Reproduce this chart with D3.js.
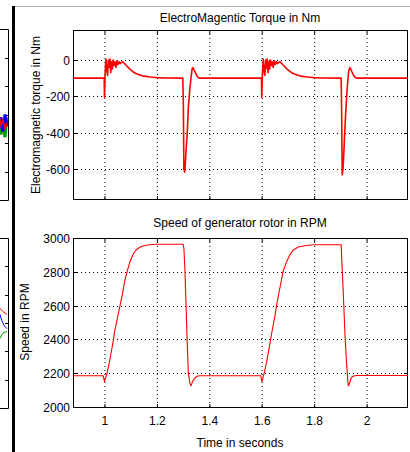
<!DOCTYPE html>
<html><head><meta charset="utf-8">
<script src="https://cdn.jsdelivr.net/npm/d3@7/dist/d3.min.js"></script>
<style>body{margin:0;background:#fff}svg{display:block}text{font-family:"Liberation Sans",Arial,sans-serif;fill:#000}</style>
</head><body><svg id="c" width="410" height="452"></svg>
<script>
// ---------- data ----------
const torqueTitle = "ElectroMagentic Torque in Nm";
const speedTitle = "Speed of generator rotor in RPM";
const torqueYLabel = "Electromagnetic torque in Nm";
const speedYLabel = "Speed in RPM";
const xLabel = "Time in seconds";
const xTicks = [1, 1.2, 1.4, 1.6, 1.8, 2];
const xTickLabels = ["1", "1.2", "1.4", "1.6", "1.8", "2"];
const torqueTicks = [0, -200, -400, -600];
const speedTicks = [2000, 2200, 2400, 2600, 2800, 3000];

const torqueT = [0.88,0.999,1.000,1.002,1.004,1.006,1.009,1.012,1.015,1.018,1.021,1.024,1.027,1.030,1.033,1.037,1.040,1.044,1.048,1.052,1.056,1.060,1.065,1.070,1.080,1.090,1.100,1.110,1.120,1.135,1.150,1.175,1.200,1.230,1.299,1.301,1.303,1.306,1.309,1.312,1.316,1.320,1.325,1.330,1.335,1.338,1.342,1.347,1.352,1.358,1.365,
  1.599,1.600,1.602,1.604,1.606,1.609,1.612,1.615,1.618,1.621,1.624,1.627,1.630,1.633,1.637,1.640,1.644,1.648,1.652,1.656,1.660,1.665,1.670,1.680,1.690,1.700,1.710,1.720,1.735,1.750,1.775,1.800,1.830,1.903,1.905,1.907,1.910,1.913,1.916,1.920,1.924,1.928,1.932,1.936,1.939,1.943,1.948,1.953,1.958,1.964,2.158];
const torqueV = [-100,-100,-205,-100,-30,5,-60,-85,0,-40,5,-70,-10,-50,0,-30,-10,-40,-5,-25,-10,-20,-12,-10,-25,-40,-55,-66,-75,-83,-89,-94,-97,-99,-100,-250,-600,-617,-560,-480,-400,-260,-170,-100,-45,-42,-55,-70,-85,-97,-100,
  -100,-205,-100,-30,5,-65,-85,0,-45,5,-70,-10,-50,0,-30,-10,-40,-5,-25,-10,-20,-12,-10,-25,-40,-55,-66,-75,-83,-89,-94,-97,-99,-100,-300,-632,-600,-520,-420,-300,-200,-120,-60,-42,-48,-62,-78,-90,-97,-100,-100];

const speedT = [0.88,0.995,1.000,1.003,1.010,1.020,1.030,1.040,1.050,1.060,1.070,1.078,1.088,1.097,1.110,1.120,1.135,1.147,1.170,1.200,1.300,1.303,1.307,1.315,1.320,1.326,1.330,1.336,1.345,1.355,1.365,
  1.597,1.600,1.604,1.610,1.620,1.630,1.640,1.650,1.658,1.670,1.681,1.695,1.707,1.720,1.739,1.770,1.800,1.903,1.906,1.912,1.918,1.924,1.930,1.935,1.941,1.948,1.960,2.158];
const speedV = [2185,2185,2150,2165,2200,2275,2360,2455,2530,2605,2680,2750,2810,2858,2905,2929,2945,2953,2960,2963,2963,2940,2811,2416,2200,2140,2125,2150,2172,2183,2185,
  2185,2150,2170,2205,2277,2365,2454,2535,2614,2710,2800,2860,2900,2928,2947,2956,2960,2960,2853,2640,2416,2250,2125,2140,2170,2182,2186,2186];

// partial neighbour panels at the left edge
const leftTopTicks = [1, 2, 3, 4, 5];
const leftTopBlue = [3.5, 3.1, 3.6, 3.0, 3.4];
const leftTopGreen = [3.2, 3.7, 3.3, 3.8, 3.1];
const leftTopRed = [3.0, 3.4, 3.2, 3.5, 3.3];
const leftBotTicks = [1, 2, 3, 4, 5];
const leftBotRed = [2.45, 2.6, 2.7];
const leftBotBlue = [2.6, 2.9, 3.1, 3.2];
const leftBotGreen = [3.6, 3.35, 3.3];

// ---------- drawing ----------
const svg = d3.select("#c");
const L = 73, R = 408;
const x = d3.scaleLinear().domain([0.88, 2.158]).range([L, R]);

// frame elements
svg.append("line").attr("x1",15).attr("x2",410).attr("y1",6.5).attr("y2",6.5).attr("stroke","#b4b4b4").attr("stroke-width",1);
svg.append("rect").attr("x",12).attr("y",6).attr("width",3).attr("height",446).attr("fill","#000");

function panel(top, bottom, y, ticks, tickLabels) {
  const g = svg.append("g");
  // grid
  g.selectAll(".gx").data(xTicks).join("line")
    .attr("x1",d=>x(d)+0.5).attr("x2",d=>x(d)+0.5).attr("y1",top).attr("y2",bottom)
    .attr("stroke","#000").attr("stroke-dasharray","1,3").attr("stroke-width",1);
  g.selectAll(".gy").data(ticks).join("line")
    .attr("x1",L).attr("x2",R).attr("y1",d=>Math.round(y(d))+0.5).attr("y2",d=>Math.round(y(d))+0.5)
    .attr("stroke","#000").attr("stroke-dasharray","1,3").attr("stroke-width",1);
  // ticks inward on all sides
  xTicks.forEach(d=>{
    g.append("line").attr("x1",x(d)+0.5).attr("x2",x(d)+0.5).attr("y1",bottom).attr("y2",bottom-4).attr("stroke","#000");
    g.append("line").attr("x1",x(d)+0.5).attr("x2",x(d)+0.5).attr("y1",top).attr("y2",top+4).attr("stroke","#000");
  });
  ticks.forEach((d,i)=>{
    const yy = Math.round(y(d))+0.5;
    g.append("line").attr("x1",L).attr("x2",L+4).attr("y1",yy).attr("y2",yy).attr("stroke","#000");
    g.append("line").attr("x1",R-4).attr("x2",R).attr("y1",yy).attr("y2",yy).attr("stroke","#000");
    g.append("text").attr("x",L-3).attr("y",yy+4).attr("text-anchor","end").attr("font-size",12).text(tickLabels[i]);
  });
  g.append("rect").attr("x",L+0.5).attr("y",top+0.5).attr("width",R-L-1).attr("height",bottom-top-1)
    .attr("fill","none").attr("stroke","#000").attr("stroke-width",1);
  return g;
}

// top: torque
const yT = d3.scaleLinear().domain([-765, 165]).range([199, 30]);
panel(30, 200, yT, torqueTicks, torqueTicks.map(String));
const lineT = d3.line().x(d=>x(d[0])).y(d=>yT(d[1]));
svg.append("path").datum(torqueT.map((t,i)=>[t,torqueV[i]])).attr("d",lineT)
  .attr("fill","none").attr("stroke","#ff0000").attr("stroke-width",1.6).attr("stroke-linejoin","round");
svg.append("text").attr("x",240).attr("y",22).attr("text-anchor","middle").attr("font-size",12).text(torqueTitle);
svg.append("text").attr("transform","translate(40,115) rotate(-90)").attr("text-anchor","middle").attr("font-size",12).text(torqueYLabel);

// bottom: speed
const yS = d3.scaleLinear().domain([2000, 3000]).range([407, 238]);
panel(238, 408, yS, speedTicks, speedTicks.map(String));
const lineS = d3.line().x(d=>x(d[0])).y(d=>yS(d[1]));
svg.append("path").datum(speedT.map((t,i)=>[t,speedV[i]])).attr("d",lineS)
  .attr("fill","none").attr("stroke","#ff0000").attr("stroke-width",1.1).attr("stroke-linejoin","round");
svg.append("text").attr("x",240).attr("y",227).attr("text-anchor","middle").attr("font-size",12).text(speedTitle);
svg.append("text").attr("transform","translate(29,322) rotate(-90)").attr("text-anchor","middle").attr("font-size",12).text(speedYLabel);

// x tick labels and label
svg.selectAll(".xl").data(xTicks).join("text").attr("x",d=>x(d)+0.5).attr("y",425)
  .attr("text-anchor","middle").attr("font-size",12).text((d,i)=>xTickLabels[i]);
svg.append("text").attr("x",240).attr("y",447).attr("text-anchor","middle").attr("font-size",12).text(xLabel);

// partial neighbour panels
function leftPanel(top, bottom, ticks, series) {
  const ly = d3.scaleLinear().domain([0, 6]).range([top, bottom]);
  const lx = d3.scaleLinear().domain([0, 1]).range([-1, 7]);
  svg.append("path").attr("d",`M0,${top+0.5}H8.5V${bottom+0.5}H0`).attr("fill","none").attr("stroke","#000");
  ticks.forEach(d=>svg.append("line").attr("x1",5).attr("x2",8).attr("y1",Math.round(ly(d))+0.5).attr("y2",Math.round(ly(d))+0.5).attr("stroke","#000"));
  series.forEach(s=>{
    svg.append("path").datum(s.v).attr("d",d3.line().x((d,i)=>lx(i/(s.v.length-1))).y(d=>ly(d)))
      .attr("fill","none").attr("stroke",s.c).attr("stroke-width",s.w);
  });
}
leftPanel(29, 200, leftTopTicks, [
  {v:leftTopGreen,c:"#00a000",w:3},{v:leftTopBlue,c:"#0000ff",w:3},{v:leftTopRed,c:"#ff0000",w:1.5}]);
leftPanel(238, 408, leftBotTicks, [
  {v:leftBotGreen,c:"#00a000",w:1},{v:leftBotBlue,c:"#0000ff",w:1},{v:leftBotRed,c:"#ff0000",w:1}]);
</script></body></html>
